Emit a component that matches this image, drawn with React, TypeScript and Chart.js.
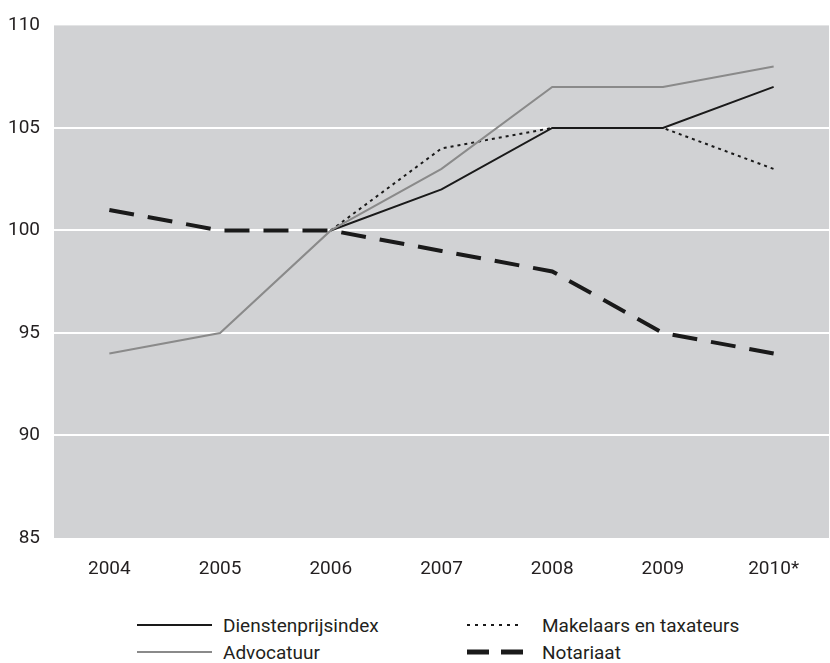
import React, { useEffect, useRef } from "react";
import { Chart, registerables } from "chart.js";

Chart.register(...registerables);

const years = ["2004", "2005", "2006", "2007", "2008", "2009", "2010*"];
const dienstenprijsindex = [null, null, 100, 102, 105, 105, 107];
const advocatuur = [94, 95, 100, 103, 107, 107, 108];
const makelaars = [null, null, 100, 104, 105, 105, 103];
const notariaat = [101, 100, 100, 99, 98, 95, 94];
const yTicks = [85, 90, 95, 100, 105, 110];

const PLOT_BG = "#d1d2d4";
const TEXT = "#231f20";

const bgPlugin = {
  id: "plotBg",
  beforeDraw(chart: any) {
    const { ctx, chartArea } = chart;
    if (!chartArea) return;
    ctx.save();
    ctx.fillStyle = PLOT_BG;
    ctx.fillRect(chartArea.left, chartArea.top, chartArea.right - chartArea.left, chartArea.bottom - chartArea.top);
    ctx.restore();
  },
};

const legendItems = [
  { label: "Dienstenprijsindex", color: "#1a1a1a", width: 2, dash: "", col: 0, row: 0 },
  { label: "Makelaars en taxateurs", color: "#1a1a1a", width: 2, dash: "3 5", col: 1, row: 0 },
  { label: "Advocatuur", color: "#8a8a8a", width: 2, dash: "", col: 0, row: 1 },
  { label: "Notariaat", color: "#1a1a1a", width: 5, dash: "22 12", col: 1, row: 1 },
];

export default function App() {
  const ref = useRef<HTMLCanvasElement>(null);

  useEffect(() => {
    document.body.style.margin = "0";
    const canvas = ref.current;
    if (!canvas) return;
    const chart = new Chart(canvas, {
      type: "line",
      data: {
        labels: years,
        datasets: [
          {
            label: "Advocatuur",
            data: advocatuur,
            borderColor: "#8a8a8a",
            borderWidth: 2,
            pointRadius: 0,
            tension: 0,
          },
          {
            label: "Dienstenprijsindex",
            data: dienstenprijsindex as any,
            borderColor: "#1a1a1a",
            borderWidth: 2,
            pointRadius: 0,
            tension: 0,
          },
          {
            label: "Makelaars en taxateurs",
            data: makelaars as any,
            borderColor: "#1a1a1a",
            borderWidth: 2,
            borderDash: [3, 4],
            pointRadius: 0,
            tension: 0,
          },
          {
            label: "Notariaat",
            data: notariaat,
            borderColor: "#1a1a1a",
            borderWidth: 4,
            borderDash: [25, 14],
            pointRadius: 0,
            tension: 0,
          },
        ],
      },
      options: {
        animation: false,
        responsive: false,
        maintainAspectRatio: false,
        layout: { padding: { top: 17, right: 1, left: 0, bottom: 0 } },
        plugins: {
          legend: { display: false },
          tooltip: { enabled: false },
        },
        scales: {
          x: {
            offset: true,
            grid: { display: false, drawTicks: false },
            border: { display: false },
            ticks: {
              color: TEXT,
              font: { family: "Roboto", size: 19 },
              padding: 20,
              maxRotation: 0,
            },
            afterFit(axis: any) {
              axis.height = 62;
            },
          },
          y: {
            min: 85,
            max: 110,
            afterBuildTicks(axis: any) {
              axis.ticks = yTicks.map((v) => ({ value: v }));
            },
            grid: {
              drawTicks: false,
              color: "#ffffff",
              lineWidth: (ctx: any) => (ctx.tick && (ctx.tick.value === 85 || ctx.tick.value === 110) ? 0 : 2),
            },
            border: { display: false },
            ticks: {
              color: TEXT,
              font: { family: "Roboto", size: 19 },
              padding: 14,
            },
            afterFit(axis: any) {
              axis.width = 54;
            },
          },
        },
      },
      plugins: [bgPlugin],
    });
    return () => chart.destroy();
  }, []);

  return (
    <div style={{ position: "relative", width: 830, height: 663, background: "#fff" }}>
      <canvas ref={ref} width={830} height={600} style={{ display: "block" }} />
      {legendItems.map((it) => {
        const lw = it.col === 0 ? 75 : 56;
        return (
          <div
            key={it.label}
            style={{
              position: "absolute",
              left: it.col === 0 ? 137 : 467,
              top: 613 + it.row * 27,
              height: 24,
              display: "flex",
              alignItems: "center",
              fontFamily: "Roboto, sans-serif",
              fontSize: 19,
              color: TEXT,
              whiteSpace: "nowrap",
            }}
          >
            <svg width={lw} height={10} style={{ marginRight: it.col === 0 ? 11 : 19 }}>
              <line
                x1={0}
                y1={5}
                x2={lw}
                y2={5}
                stroke={it.color}
                strokeWidth={it.width}
                strokeDasharray={it.dash || undefined}
              />
            </svg>
            <span>{it.label}</span>
          </div>
        );
      })}
    </div>
  );
}
